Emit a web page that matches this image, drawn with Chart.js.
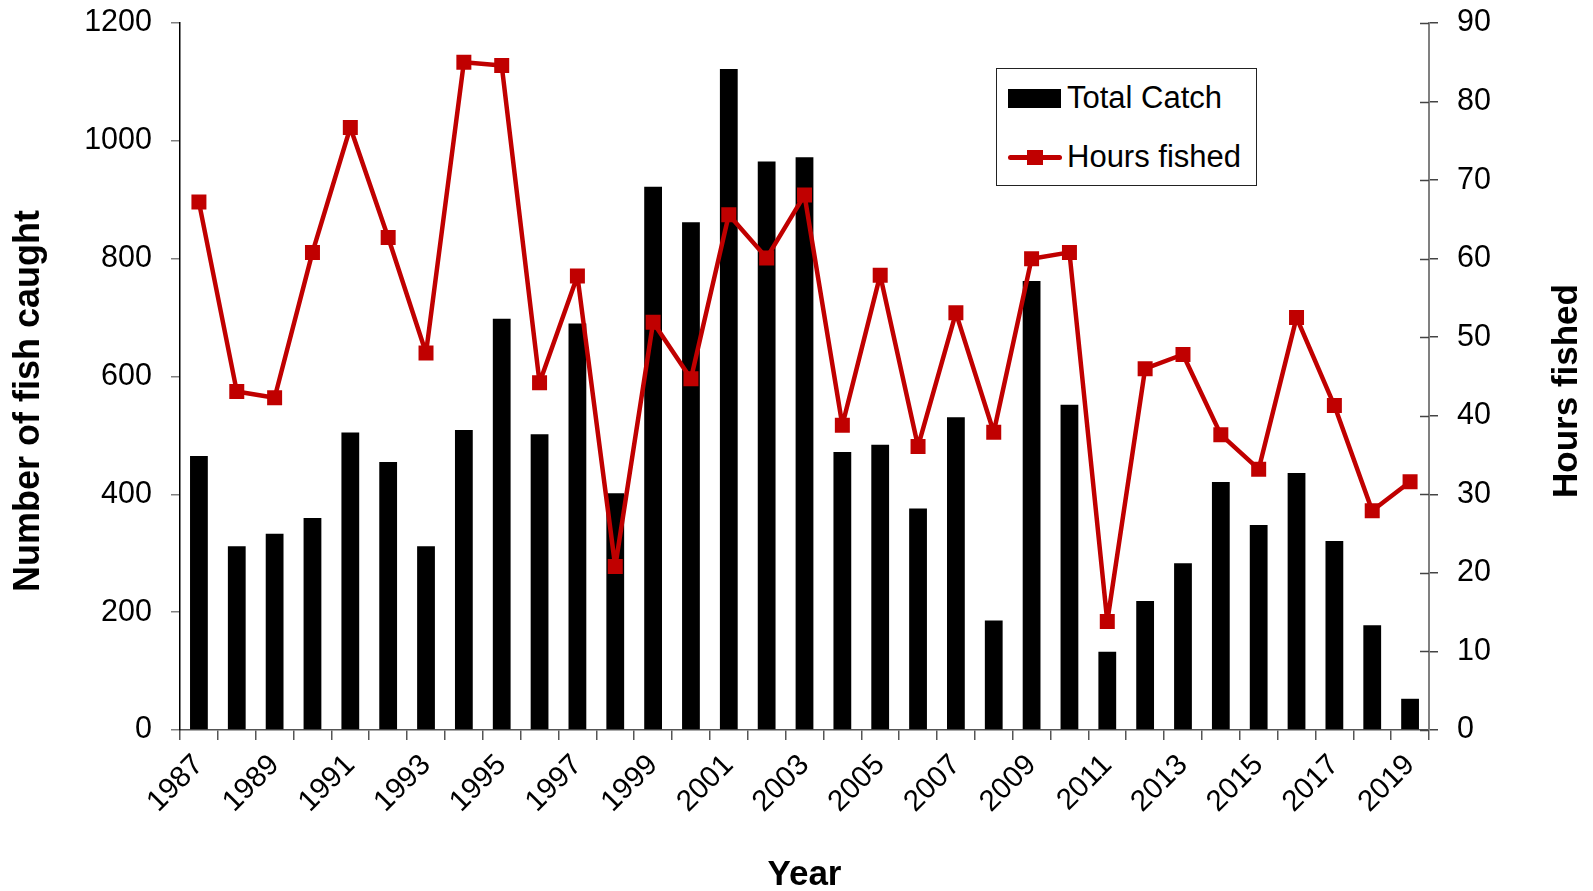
<!DOCTYPE html>
<html>
<head>
<meta charset="utf-8">
<script src="https://cdn.jsdelivr.net/npm/chart.js@4/dist/chart.umd.min.js"></script>
<style>
  body { margin: 0; background: #fff; }
  #wrap { position: relative; width: 1593px; height: 891px; }
  #legend {
    position: absolute; left: 996px; top: 68px; width: 261px; height: 118px;
    border: 1px solid #222; background: #fff; box-sizing: border-box;
    font-family: "Liberation Sans", Arial, sans-serif; font-size: 31px; color: #000;
  }
  #legend span { position: absolute; left: 70px; line-height: 36px; white-space: nowrap; }
  .swatch { position: absolute; left: 11px; width: 53px; height: 19px; }
  .linekey { position: absolute; left: 11px; width: 54px; height: 16px; }
  .linekey i { position: absolute; left: 0; right: 0; top: 5px; height: 5px; border-radius: 3px; }
  .linekey b { position: absolute; left: 19px; top: 0; width: 16px; height: 15px; }
</style>
</head>
<body>
<div id="wrap">
  <canvas id="chart" width="1593" height="891"></canvas>
  <div id="legend"></div>
</div>
<script>
// values
const years = ['1987', '1988', '1989', '1990', '1991', '1992', '1993', '1994', '1995', '1996', '1997',
  '1998', '1999', '2000', '2001', '2002', '2003', '2004', '2005', '2006', '2007', '2008',
  '2009', '2010', '2011', '2012', '2013', '2014', '2015', '2016', '2017', '2018', '2019']
const totalCatch = [465, 312, 333, 360, 505, 455, 312, 509, 698, 502, 690,
  402, 922, 862, 1122, 965, 972, 472, 484, 376, 531, 186,
  762, 552, 133, 219, 283, 421, 348, 436, 321, 178, 53]
const hoursFished = [67.2, 43.1, 42.3, 60.8, 76.7, 62.7, 48.0, 85.0, 84.6, 44.2, 57.8,
  20.8, 51.9, 44.7, 65.6, 60.1, 68.1, 38.8, 57.9, 36.1, 53.1, 37.9,
  60.0, 60.8, 13.8, 46.0, 47.8, 37.6, 33.2, 52.5, 41.3, 27.9, 31.6]

const xTitle = 'Year'
const leftTitle = 'Number of fish caught'
const rightTitle = 'Hours fished'

const FONT = '"Liberation Sans", Arial, sans-serif'
const RED = '#c00000'

// y titles read bottom-to-top on both sides, so draw them here.
// also the right axis ticks cross the axis line, add the inner half
const axisExtras = {
  id: 'axisExtras',
  afterDraw(chart) {
    const ctx = chart.ctx
    const area = chart.chartArea
    ctx.save()
    ctx.fillStyle = '#000'
    ctx.textAlign = 'center'
    ctx.textBaseline = 'middle'
    ctx.font = 'bold 36px ' + FONT
    ctx.translate(area.left - 151, 401)
    ctx.rotate(-Math.PI / 2)
    ctx.fillText(leftTitle, 0, 0)
    ctx.restore()

    ctx.save()
    ctx.fillStyle = '#000'
    ctx.textAlign = 'center'
    ctx.textBaseline = 'middle'
    ctx.font = 'bold 35px ' + FONT
    ctx.translate(area.right + 138, 391)
    ctx.rotate(-Math.PI / 2)
    ctx.fillText(rightTitle, 0, 0)
    ctx.restore()

    const y1 = chart.scales.y1
    ctx.save()
    ctx.strokeStyle = '#444'
    ctx.lineWidth = 1.5
    ctx.beginPath()
    y1.ticks.forEach(t => {
      const py = Math.round(y1.getPixelForValue(t.value)) + 0.5
      ctx.moveTo(area.right - 9, py)
      ctx.lineTo(area.right, py)
    })
    ctx.stroke()
    ctx.restore()
  }
}

const noPad = s => { s.paddingTop = 0; s.paddingBottom = 0; s.paddingLeft = 0; s.paddingRight = 0 }

const chart = new Chart(document.getElementById('chart'), {
  data: {
    labels: years,
    datasets: [
      {
        type: 'bar',
        label: 'Total Catch',
        data: totalCatch,
        backgroundColor: '#000',
        barPercentage: 0.47,
        categoryPercentage: 1,
        yAxisID: 'y',
        order: 1
      },
      {
        type: 'line',
        label: 'Hours fished',
        data: hoursFished,
        borderColor: RED,
        backgroundColor: RED,
        borderWidth: 4.5,
        borderJoinStyle: 'round',
        pointStyle: 'rect',
        pointRadius: 10.6,
        pointBorderWidth: 0,
        tension: 0,
        yAxisID: 'y1',
        order: 0
      }
    ]
  },
  options: {
    responsive: false,
    animation: false,
    devicePixelRatio: 1,
    layout: { padding: { top: 23, left: 0, right: 0, bottom: 0 } },
    plugins: {
      legend: { display: false },
      tooltip: { enabled: false }
    },
    scales: {
      x: {
        offset: true,
        grid: { offset: true, drawOnChartArea: false, tickLength: 10, color: '#555', lineWidth: 1.5 },
        border: { color: '#555', width: 1.5 },
        ticks: {
          autoSkip: false, maxRotation: 45, minRotation: 45, padding: 8, color: '#000',
          font: { family: FONT, size: 29.5 },
          callback: (v, i) => (i % 2 === 0 ? years[i] : '')
        },
        title: { display: true, text: xTitle, color: '#000', padding: { top: 0, bottom: -2 }, font: { family: FONT, size: 35, weight: 'bold', lineHeight: 1 } },
        afterFit: s => { noPad(s); s.height = 161 }
      },
      y: {
        position: 'left',
        min: 0, max: 1200,
        ticks: { stepSize: 200, padding: 19, color: '#000', font: { family: FONT, size: 30.5 }, callback: v => String(v) },
        grid: { drawOnChartArea: false, tickLength: 9, color: '#808080', lineWidth: 1.5 },
        border: { color: '#000', width: 1.5 },
        afterFit: s => { noPad(s); s.width = 180 }
      },
      y1: {
        position: 'right',
        min: 0, max: 90,
        ticks: { stepSize: 10, padding: 19, color: '#000', font: { family: FONT, size: 30.5 }, callback: v => String(v) },
        grid: { drawOnChartArea: false, tickLength: 9, color: '#444', lineWidth: 1.5 },
        border: { color: '#808080', width: 2 },
        afterFit: s => { noPad(s); s.width = 164 }
      }
    }
  },
  plugins: [axisExtras]
})

// legend box, built from the datasets
const legend = document.getElementById('legend')
chart.data.datasets.forEach((ds, i) => {
  const mid = i === 0 ? 29 : 88
  let key = document.createElement('div')
  if (ds.type === 'bar') {
    key.className = 'swatch'
    key.style.background = ds.backgroundColor
    key.style.top = (mid - 9.5) + 'px'
  } else {
    key.className = 'linekey'
    key.innerHTML = '<i></i><b></b>'
    key.querySelector('i').style.background = ds.borderColor
    key.querySelector('b').style.background = ds.backgroundColor
    key.style.top = (mid - 7.5) + 'px'
  }
  const text = document.createElement('span')
  text.textContent = ds.label
  text.style.top = (mid - 18) + 'px'
  legend.appendChild(key)
  legend.appendChild(text)
})
</script>
</body>
</html>
